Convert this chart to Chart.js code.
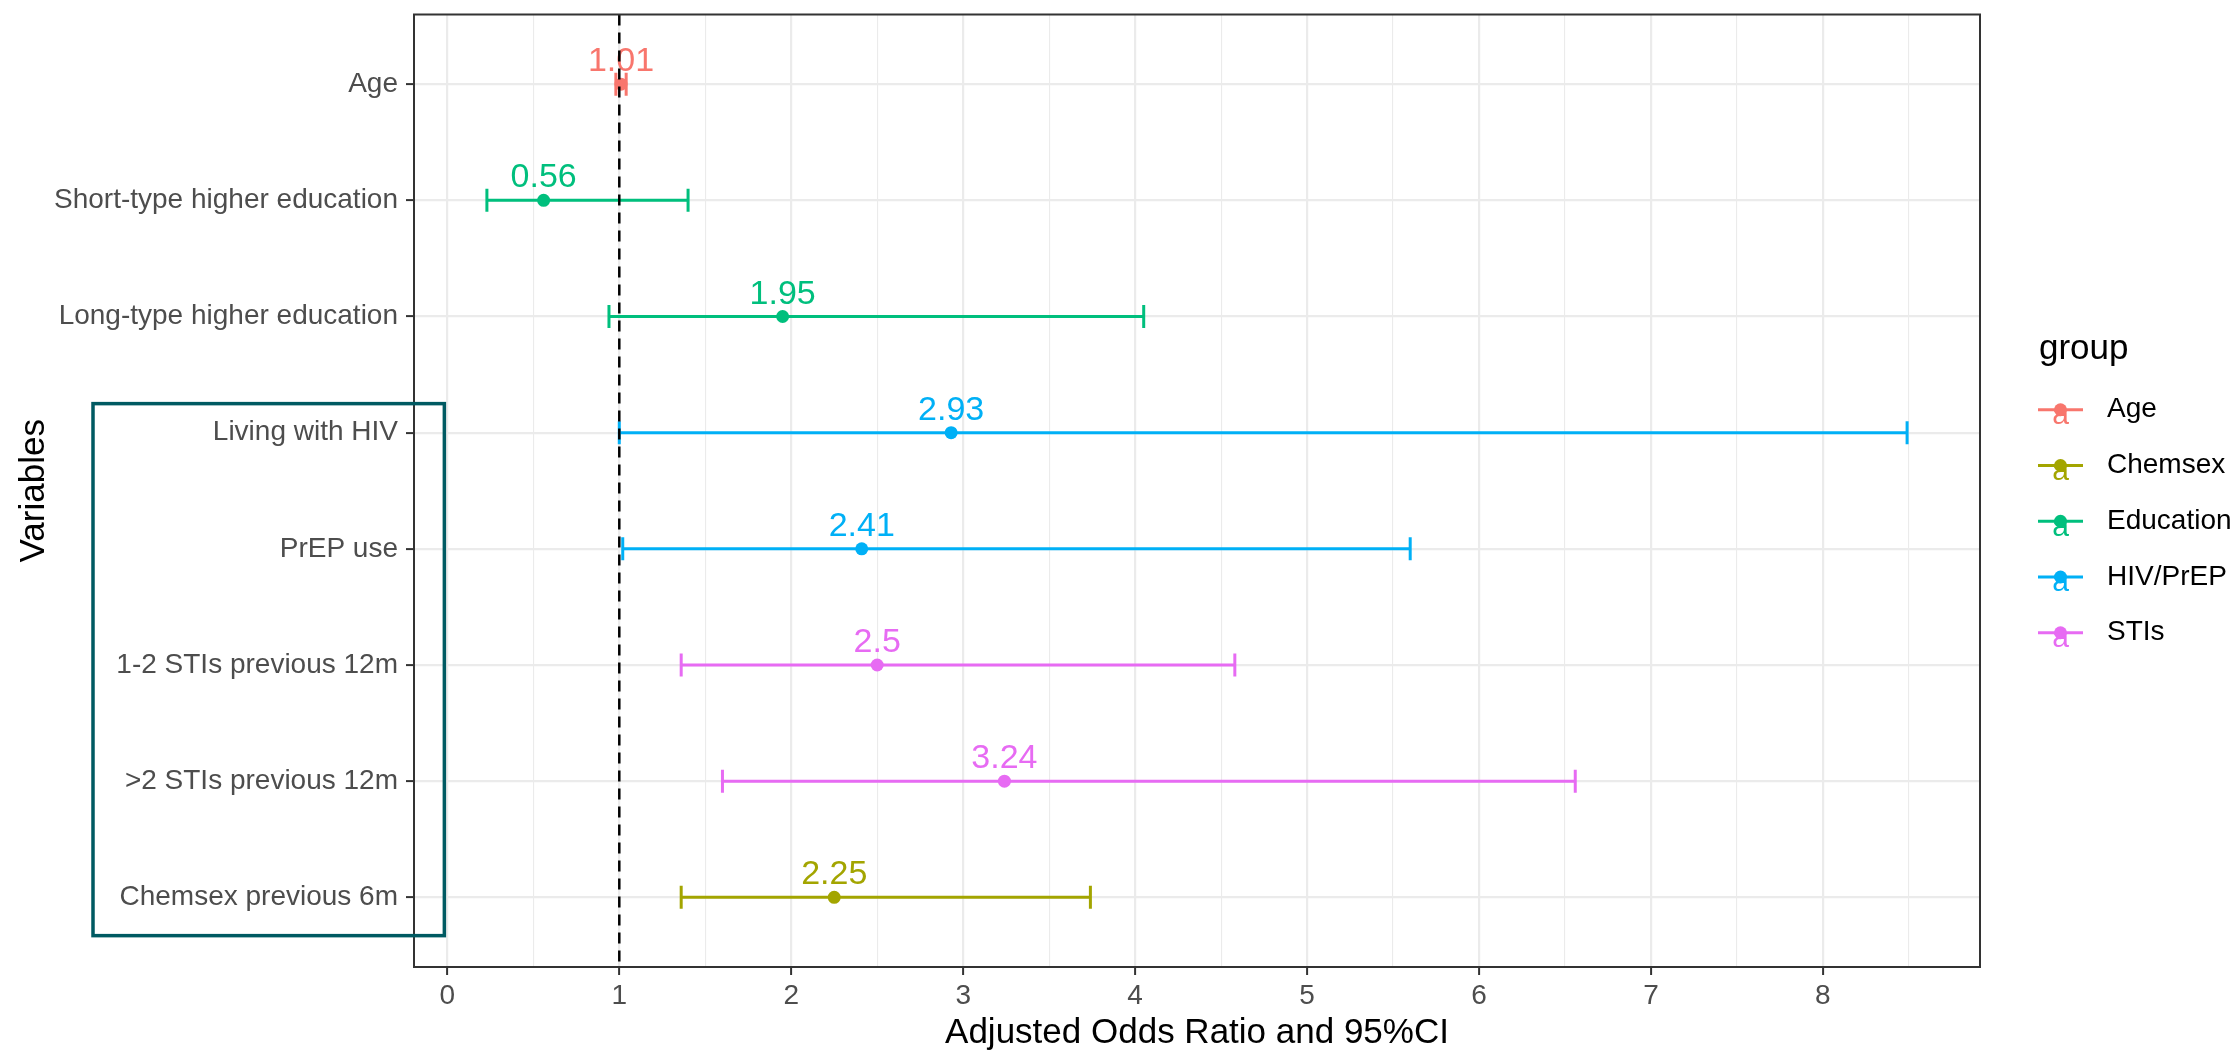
<!DOCTYPE html>
<html>
<head>
<meta charset="utf-8">
<script src="https://cdn.jsdelivr.net/npm/chart.js@4.4.0/dist/chart.umd.min.js"></script>
<style>
html, body { margin: 0; padding: 0; background: #fff; }
#wrap { width: 2236px; height: 1056px; position: relative; }
</style>
</head>
<body>
<div id="wrap"><canvas id="myChart"></canvas></div>
<script>
const variables = ["Age", "Short-type higher education", "Long-type higher education", "Living with HIV", "PrEP use", "1-2 STIs previous 12m", ">2 STIs previous 12m", "Chemsex previous 6m"];
const groups = ["Age", "Education", "Education", "HIV/PrEP", "HIV/PrEP", "STIs", "STIs", "Chemsex"];
const aor = [1.01, 0.56, 1.95, 2.93, 2.41, 2.5, 3.24, 2.25];
const aorLabels = ["1.01", "0.56", "1.95", "2.93", "2.41", "2.5", "3.24", "2.25"];
const ciLow = [0.98, 0.23, 0.94, 1.00, 1.02, 1.36, 1.60, 1.36];
const ciHigh = [1.04, 1.40, 4.05, 8.49, 5.60, 4.58, 6.56, 3.74];
const legendGroups = ["Age", "Chemsex", "Education", "HIV/PrEP", "STIs"];
const groupColors = ["#F8766D", "#A3A500", "#00BF7D", "#00B0F6", "#E76BF3"];
const xTicks = [0, 1, 2, 3, 4, 5, 6, 7, 8];
const refValue = 1;

const FONT = "'Liberation Sans', Arial, sans-serif";
const rowColor = groups.map(g => groupColors[legendGroups.indexOf(g)]);

// dashed reference line first so it ends up on top
const datasets = [{
  type: "line",
  data: [{x: refValue, y: -0.6}, {x: refValue, y: variables.length - 0.4}],
  borderColor: "#000",
  borderWidth: 2.5,
  borderDash: [11, 7],
  pointRadius: 0
}, {
  type: "scatter",
  data: aor.map((v, i) => ({x: v, y: i})),
  backgroundColor: rowColor,
  borderWidth: 0,
  pointRadius: 6.5
}];

variables.forEach((v, i) => {
  datasets.push({
    type: "line",
    data: [{x: ciLow[i], y: i}, {x: ciHigh[i], y: i}],
    borderColor: rowColor[i],
    borderWidth: 3,
    pointStyle: "line",
    rotation: 90,
    pointRadius: 11.5,
    pointBorderColor: rowColor[i],
    pointBorderWidth: 3
  });
});

// value labels above the estimates
const valueLabels = {
  id: "valueLabels",
  beforeDatasetsDraw(chart) {
    const {ctx, scales} = chart;
    ctx.save();
    ctx.font = "34px " + FONT;
    ctx.textAlign = "center";
    ctx.textBaseline = "alphabetic";
    aor.forEach((v, i) => {
      ctx.fillStyle = rowColor[i];
      ctx.fillText(aorLabels[i], scales.x.getPixelForValue(v), scales.y.getPixelForValue(i) - 13);
    });
    ctx.restore();
  }
};

const panelFrame = {
  id: "panelFrame",
  afterDatasetsDraw(chart) {
    const {ctx, chartArea: a} = chart;
    ctx.save();
    ctx.strokeStyle = "#333333";
    ctx.lineWidth = 2;
    ctx.strokeRect(a.left, a.top, a.right - a.left, a.bottom - a.top);
    ctx.restore();
  }
};

// teal box around the lower labels
const highlightBox = {
  id: "highlightBox",
  afterDraw(chart) {
    const {ctx, scales} = chart;
    const top = scales.y.getPixelForValue(2.75);
    const bottom = scales.y.getPixelForValue(7.33);
    const right = scales.x.getPixelForValue(0) - 3;
    ctx.save();
    ctx.strokeStyle = "#005A62";
    ctx.lineWidth = 3.5;
    ctx.strokeRect(93, top, right - 93, bottom - top);
    ctx.restore();
  }
};

const groupLegend = {
  id: "groupLegend",
  afterDraw(chart) {
    const {ctx, chartArea: a} = chart;
    const x0 = a.right;
    const yc = (a.top + a.bottom) / 2;
    ctx.save();
    ctx.fillStyle = "#000";
    ctx.font = "35px " + FONT;
    ctx.textAlign = "left";
    ctx.textBaseline = "middle";
    ctx.fillText("group", x0 + 59, yc - 141);
    legendGroups.forEach((g, k) => {
      const y = yc - 81 + k * 55.75;
      const kx = x0 + 80.5;
      ctx.strokeStyle = groupColors[k];
      ctx.lineWidth = 3;
      ctx.beginPath();
      ctx.moveTo(x0 + 58, y);
      ctx.lineTo(x0 + 103, y);
      ctx.stroke();
      ctx.fillStyle = groupColors[k];
      ctx.font = "30px " + FONT;
      ctx.textAlign = "center";
      ctx.fillText("a", kx, y + 6);
      ctx.beginPath();
      ctx.arc(kx, y, 6.5, 0, Math.PI * 2);
      ctx.fill();
      ctx.fillStyle = "#000";
      ctx.font = "28px " + FONT;
      ctx.textAlign = "left";
      ctx.fillText(g, x0 + 127, y);
    });
    ctx.restore();
  }
};

new Chart("myChart", {
  type: "scatter",
  data: {datasets: datasets},
  plugins: [valueLabels, panelFrame, highlightBox, groupLegend],
  options: {
    responsive: true,
    maintainAspectRatio: false,
    animation: false,
    devicePixelRatio: 1,
    layout: {padding: {top: 11, right: 256, bottom: 0, left: 0}},
    plugins: {legend: {display: false}, tooltip: {enabled: false}},
    scales: {
      x: {
        type: "linear",
        min: -0.194,
        max: 8.914,
        afterBuildTicks: s => { s.ticks = xTicks.flatMap(v => [{value: v}, {value: v + 0.5}]); },
        afterFit: s => { s.height = 89; s.paddingLeft = 0; s.paddingRight = 0; },
        border: {display: false},
        grid: {
          color: "#EBEBEB",
          lineWidth: c => Number.isInteger(c.tick.value) ? 2.2 : 1.1,
          tickColor: c => Number.isInteger(c.tick.value) ? "#333333" : "rgba(0,0,0,0)",
          tickLength: 8,
          tickWidth: 2
        },
        ticks: {
          autoSkip: false,
          maxRotation: 0,
          padding: 4,
          color: "#4D4D4D",
          font: {family: FONT, size: 28},
          callback: v => Number.isInteger(v) ? String(v) : ""
        },
        title: {
          display: true,
          text: "Adjusted Odds Ratio and 95%CI",
          color: "#000",
          font: {family: FONT, size: 35},
          padding: {top: 0, bottom: 2}
        }
      },
      y: {
        type: "linear",
        reverse: true,
        min: -0.6,
        max: variables.length - 0.4,
        afterBuildTicks: s => { s.ticks = variables.map((v, i) => ({value: i})); },
        afterFit: s => { s.width = 414; s.paddingTop = 0; s.paddingBottom = 0; },
        border: {display: false},
        grid: {
          color: "#EBEBEB",
          lineWidth: 2.2,
          tickColor: "#333333",
          tickLength: 8,
          tickWidth: 2
        },
        ticks: {
          autoSkip: false,
          padding: 8,
          color: "#4D4D4D",
          font: {family: FONT, size: 28},
          callback: v => variables[v]
        },
        title: {
          display: true,
          text: "Variables",
          color: "#000",
          font: {family: FONT, size: 35},
          padding: {top: 13, bottom: 0}
        }
      }
    }
  }
});
</script>
</body>
</html>
